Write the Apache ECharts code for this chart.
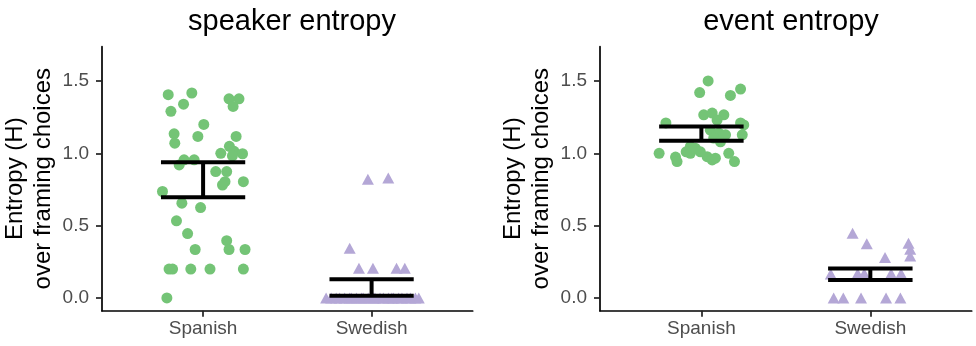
<!DOCTYPE html>
<html>
<head>
<meta charset="utf-8">
<script src="https://cdn.jsdelivr.net/npm/echarts@6/dist/echarts.min.js"></script>
<style>
  html, body { margin: 0; padding: 0; background: #fff; }
  #chart { width: 976px; height: 346px; }
</style>
</head>
<body>
<div id="chart"></div>
<script>
// 两个面板：speaker entropy / event entropy
var groups = ["Spanish", "Swedish"];
var yTicks = [0, 0.5, 1.0, 1.5];

// [x(组序号+抖动), 熵值]
var speakerSpanish = [
  [0.793, 1.405], [0.933, 1.417], [0.884, 1.34], [0.809, 1.29], [1.154, 1.377], [1.213, 1.377],
  [1.178, 1.324], [1.004, 1.20], [0.828, 1.135], [0.832, 1.07], [0.969, 1.117], [1.196, 1.117],
  [1.156, 1.048], [1.105, 1.0], [1.184, 1.014], [1.234, 0.997], [1.174, 0.983], [0.887, 0.955],
  [0.947, 0.955], [0.858, 0.92], [1.075, 0.874], [1.140, 0.874], [1.239, 0.804], [1.13, 0.804],
  [1.115, 0.781], [0.759, 0.736], [0.874, 0.655], [0.985, 0.625], [0.842, 0.533], [0.908, 0.445],
  [1.140, 0.396], [0.953, 0.335], [1.154, 0.335], [1.249, 0.335], [0.798, 0.2], [0.819, 0.2],
  [0.927, 0.2], [1.041, 0.2], [1.239, 0.2], [0.785, 0.0]
];
var speakerSwedish = [
  [1.978, 0.82], [2.099, 0.83], [1.870, 0.344], [1.925, 0.205], [2.008, 0.205], [2.148, 0.205],
  [2.197, 0.205], [1.73, 0], [1.76, 0], [1.79, 0], [1.81, 0], [1.84, 0], [1.87, 0], [1.88, 0],
  [1.91, 0], [1.94, 0], [1.95, 0], [1.98, 0], [2.01, 0], [2.02, 0], [2.05, 0], [2.07, 0],
  [2.10, 0], [2.12, 0], [2.13, 0], [2.16, 0], [2.18, 0], [2.21, 0], [2.23, 0], [2.26, 0], [2.28, 0]
];
var eventSpanish = [
  [1.040, 1.50], [0.990, 1.42], [1.232, 1.444], [1.172, 1.40], [1.014, 1.266], [1.064, 1.278],
  [1.133, 1.266], [1.093, 1.23], [0.790, 1.21], [1.232, 1.21], [1.251, 1.196], [1.053, 1.16],
  [1.103, 1.14], [1.143, 1.128], [1.242, 1.128], [1.073, 1.105], [1.113, 1.08], [0.935, 1.047],
  [0.750, 1.0], [0.847, 0.974], [0.856, 0.943], [0.910, 1.01], [0.935, 1.0], [0.964, 1.035],
  [1.034, 0.977], [1.064, 0.954], [1.083, 0.966], [1.162, 1.0], [1.196, 0.943], [0.994, 1.01]
];
var eventSwedish = [
  [1.895, 0.448], [1.979, 0.374], [2.226, 0.378], [2.236, 0.337], [2.236, 0.29], [2.087, 0.28],
  [1.766, 0.165], [1.925, 0.17], [1.964, 0.17], [2.123, 0.17], [2.182, 0.17],
  [1.783, 0], [1.840, 0], [1.945, 0], [2.093, 0], [2.178, 0]
];

// 误差线 [组, 下限, 上限]
var speakerErr = [[1, 0.697, 0.939], [2, 0.016, 0.130]];
var eventErr = [[1, 1.086, 1.186], [2, 0.125, 0.203]];

var myChart = echarts.init(document.getElementById("chart"));
var FONT = "'Liberation Sans', Arial, sans-serif";

function xAxisOpt(idx) {
  return {
    type: "value", gridIndex: idx, min: 0.4, max: 2.6,
    splitLine: { show: false },
    axisLine: { onZero: false, lineStyle: { color: "#000", width: 1.7 } },
    axisTick: { customValues: [1, 2], length: 6, lineStyle: { color: "#222", width: 1.7 } },
    axisLabel: {
      customValues: [1, 2], margin: 9,
      color: "#4d4d4d", fontSize: 19, fontFamily: FONT,
      formatter: function (v) { return groups[Math.round(v) - 1]; }
    }
  };
}
function yAxisOpt(idx) {
  return {
    type: "value", gridIndex: idx, min: -0.088, max: 1.737,
    name: "Entropy (H)\nover framing choices",
    nameLocation: "middle", nameRotate: 90, nameGap: 45,
    nameTextStyle: { color: "#000", fontSize: 24, lineHeight: 28, fontFamily: FONT },
    splitLine: { show: false },
    axisLine: { show: true, onZero: false, lineStyle: { color: "#000", width: 1.7 } },
    axisTick: { show: true, customValues: yTicks, length: 6, lineStyle: { color: "#222", width: 1.7 } },
    axisLabel: {
      customValues: yTicks, margin: 13,
      color: "#4d4d4d", fontSize: 19, fontFamily: FONT,
      formatter: function (v) { return v.toFixed(1); }
    }
  };
}

// 误差线
function errRender(params, api) {
  var x = api.value(0), lo = api.value(1), hi = api.value(2);
  var w = 0.25;
  var a = api.coord([x - w, hi]), b = api.coord([x + w, hi]);
  var c = api.coord([x - w, lo]), d = api.coord([x + w, lo]);
  var m1 = api.coord([x, hi]), m2 = api.coord([x, lo]);
  var st = { stroke: "#000", lineWidth: 4 };
  return {
    type: "group",
    children: [
      { type: "line", shape: { x1: a[0], y1: a[1], x2: b[0], y2: b[1] }, style: st },
      { type: "line", shape: { x1: c[0], y1: c[1], x2: d[0], y2: d[1] }, style: st },
      { type: "line", shape: { x1: m1[0], y1: m1[1], x2: m2[0], y2: m2[1] }, style: st }
    ]
  };
}

function scatter(idx, data, sym) {
  return {
    type: "scatter", xAxisIndex: idx, yAxisIndex: idx, data: data,
    symbol: sym, symbolSize: sym === "circle" ? 11 : [12, 11],
    itemStyle: { color: sym === "circle" ? "#74c476" : "#b4a7d6", opacity: 1 },
    z: 2, silent: true
  };
}
function errSeries(idx, data) {
  return {
    type: "custom", xAxisIndex: idx, yAxisIndex: idx, data: data,
    renderItem: errRender, z: 3, silent: true
  };
}

var option = {
  animation: false,
  backgroundColor: "#fff",
  title: [
    { text: "speaker entropy", left: 287, top: 2, textAlign: "center",
      textStyle: { fontSize: 29, fontWeight: "normal", color: "#000", fontFamily: FONT } },
    { text: "event entropy", left: 786, top: 2, textAlign: "center",
      textStyle: { fontSize: 29, fontWeight: "normal", color: "#000", fontFamily: FONT } }
  ],
  grid: [
    { left: 101.7, right: 503.3, top: 46.7, bottom: 35.3 },
    { left: 600, right: 4.3, top: 46.7, bottom: 35.3 }
  ],
  xAxis: [xAxisOpt(0), xAxisOpt(1)],
  yAxis: [yAxisOpt(0), yAxisOpt(1)],
  series: [
    scatter(0, speakerSpanish, "circle"),
    scatter(0, speakerSwedish, "triangle"),
    errSeries(0, speakerErr),
    scatter(1, eventSpanish, "circle"),
    scatter(1, eventSwedish, "triangle"),
    errSeries(1, eventErr)
  ]
};
myChart.setOption(option);
</script>
</body>
</html>
